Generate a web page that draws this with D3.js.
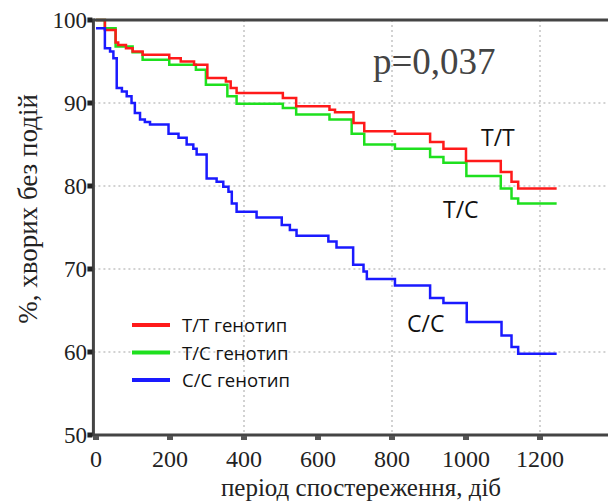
<!DOCTYPE html>
<html>
<head>
  <meta charset="utf-8">
  <title>Kaplan-Meier</title>
  <script src="https://d3js.org/d3.v7.min.js"></script>
  <style>
    body { margin: 0; background: white; }
    svg { display: block; background: white; }
  </style>
</head>
<body>
<div id="chart"></div>
<script>
// survival curves (days, % without events)
var ttDays = [0, 24, 53, 60, 81, 99, 126, 198, 229, 265, 301, 351, 364, 380, 505, 541, 631, 646, 696, 725, 808, 903, 939, 1000, 1094, 1123, 1141, 1245];
var ttVals = [100, 98.8, 97.3, 97.0, 96.6, 96.2, 95.8, 95.4, 95.0, 94.6, 93.0, 92.6, 91.8, 91.2, 90.6, 89.6, 89.2, 88.9, 87.6, 86.6, 86.3, 85.3, 84.5, 83.0, 81.7, 80.5, 79.7, 79.7];

var tcDays = [0, 24, 53, 99, 126, 198, 270, 297, 355, 380, 505, 541, 631, 691, 725, 808, 903, 939, 1001, 1094, 1123, 1141, 1245];
var tcVals = [100, 99.0, 96.8, 96.1, 95.2, 94.6, 94.0, 92.2, 90.8, 89.9, 89.4, 88.6, 88.0, 86.3, 85.0, 84.5, 83.5, 82.8, 81.2, 79.7, 78.5, 77.9, 77.9];

var ccDays = [0, 24, 38, 47, 56, 70, 83, 96, 105, 119, 132, 146, 196, 223, 245, 263, 272, 299, 326, 344, 358, 367, 380, 434, 502, 524, 542, 628, 650, 695, 723, 732, 808, 903, 939, 1002, 1096, 1123, 1141, 1245];
var ccVals = [99.0, 96.6, 96.2, 95.4, 91.8, 91.4, 90.8, 90.0, 88.8, 88.0, 87.7, 87.4, 86.3, 85.8, 85.0, 84.5, 83.8, 80.9, 80.5, 79.9, 79.3, 77.9, 76.9, 76.2, 75.3, 74.7, 74.0, 73.3, 72.6, 70.5, 69.7, 68.8, 68.0, 66.5, 65.9, 63.6, 62.0, 60.6, 59.8, 59.8];

var xTicks = [0, 200, 400, 600, 800, 1000, 1200];
var xGrid = [400, 800, 1200];
var yTicks = [50, 60, 70, 80, 90, 100];
var yGrid = [60, 70, 80, 90];

var seriesNames = ["T/T генотип", "T/C генотип", "C/C генотип"];
var curveLabels = ["T/T", "T/C", "C/C"];
var colors = ["#ff1a1a", "#1ee01e", "#1a1aff"];

var W = 608, H = 503;
var svg = d3.select("#chart").append("svg").attr("width", W).attr("height", H);

var x = d3.scaleLinear().domain([0, 1200]).range([96, 540]);
var y = d3.scaleLinear().domain([50, 100]).range([435, 20]);
var left = x(-7);

// grid
svg.append("g").selectAll("line").data(yGrid).enter().append("line")
  .attr("x1", left).attr("x2", W).attr("y1", function(d){ return y(d); }).attr("y2", function(d){ return y(d); })
  .attr("stroke", "#c4c4c4").attr("stroke-width", 1.5).attr("stroke-dasharray", "2,3");
svg.append("g").selectAll("line").data(xGrid).enter().append("line")
  .attr("y1", y(100)).attr("y2", y(50)).attr("x1", function(d){ return x(d); }).attr("x2", function(d){ return x(d); })
  .attr("stroke", "#c4c4c4").attr("stroke-width", 1.5).attr("stroke-dasharray", "2,3");

// curves
var line = d3.line().curve(d3.curveStepAfter)
  .x(function(d){ return x(d[0]); }).y(function(d){ return y(d[1]); });
var series = [d3.zip(ttDays, ttVals), d3.zip(tcDays, tcVals), d3.zip(ccDays, ccVals)];
// green first, then red, then blue
[1, 0, 2].forEach(function(i){
  svg.append("path").datum(series[i]).attr("d", line)
    .attr("fill", "none").attr("stroke", colors[i]).attr("stroke-width", 2.5);
});

// frame
svg.append("line").attr("x1", left).attr("x2", W).attr("y1", y(100)).attr("y2", y(100))
  .attr("stroke", "#444").attr("stroke-width", 3);
svg.append("line").attr("x1", left).attr("x2", W).attr("y1", y(50)).attr("y2", y(50))
  .attr("stroke", "#444").attr("stroke-width", 3);
svg.append("line").attr("x1", left).attr("x2", left).attr("y1", y(100) - 1.5).attr("y2", y(50) + 1.5)
  .attr("stroke", "#444").attr("stroke-width", 3);

// ticks
svg.append("g").selectAll("rect").data(xTicks).enter().append("rect")
  .attr("x", function(d){ return x(d) - 3; }).attr("y", y(50) + 1).attr("width", 6).attr("height", 4)
  .attr("fill", "#555");
svg.append("g").selectAll("rect").data(yTicks).enter().append("rect")
  .attr("x", left - 6).attr("y", function(d){ return y(d) - 2.5; }).attr("width", 5).attr("height", 5)
  .attr("fill", "#222");

// tick labels
svg.append("g").selectAll("text").data(xTicks).enter().append("text")
  .attr("x", function(d){ return x(d); }).attr("y", 467)
  .attr("text-anchor", "middle").attr("font-family", "Liberation Serif, serif").attr("font-size", 24)
  .attr("fill", "#222").text(function(d){ return d; });
svg.append("g").selectAll("text").data(yTicks).enter().append("text")
  .attr("x", 87).attr("y", function(d){ return y(d) + 8; })
  .attr("text-anchor", "end").attr("font-family", "Liberation Serif, serif").attr("font-size", 23)
  .attr("fill", "#222").text(function(d){ return d; });

// axis titles
svg.append("text").attr("x", 361).attr("y", 496).attr("text-anchor", "middle")
  .attr("font-family", "Liberation Serif, serif").attr("font-size", 25).attr("fill", "#222")
  .text("період спостереження, діб");
svg.append("text").attr("transform", "translate(37,209) rotate(-90)").attr("text-anchor", "middle")
  .attr("font-family", "Liberation Serif, serif").attr("font-size", 27).attr("fill", "#222")
  .text("%, хворих без подій");

// p value
svg.append("text").attr("x", 373).attr("y", 74)
  .attr("font-family", "Liberation Serif, serif").attr("font-size", 37).attr("fill", "#444")
  .text("p=0,037");

// curve labels
var labelPos = [[481, 146], [443, 218], [407, 332]];
svg.append("g").selectAll("text").data(curveLabels).enter().append("text")
  .attr("x", function(d, i){ return labelPos[i][0]; }).attr("y", function(d, i){ return labelPos[i][1]; })
  .attr("font-family", "Open Sans, sans-serif").attr("font-size", 23).attr("fill", "#111")
  .text(function(d){ return d; });

// legend
var leg = svg.append("g").selectAll("g").data(seriesNames).enter().append("g")
  .attr("transform", function(d, i){ return "translate(132," + (325 + i * 27.5) + ")"; });
leg.append("line").attr("x1", 0).attr("x2", 38).attr("y1", 0).attr("y2", 0)
  .attr("stroke", function(d, i){ return colors[i]; }).attr("stroke-width", 4);
leg.append("text").attr("x", 50).attr("y", 7)
  .attr("font-family", "Open Sans, sans-serif").attr("font-size", 18.5).attr("fill", "#111")
  .text(function(d){ return d; });
</script>
</body>
</html>
